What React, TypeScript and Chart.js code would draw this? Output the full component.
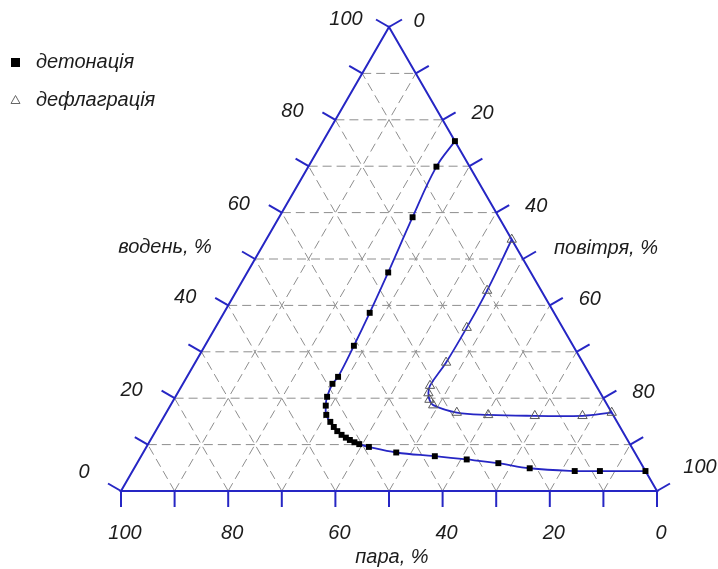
import { useEffect, useRef } from 'react';
import { Chart, registerables } from 'chart.js';

Chart.register(...registerables);

// ternary axes: водень (hydrogen), повітря (air), пара (steam); values in %
const tickValues = [0, 10, 20, 30, 40, 50, 60, 70, 80, 90, 100];
const gridValues = [10, 20, 30, 40, 50, 60, 70, 80, 90];
const labelValues = [0, 20, 40, 60, 80, 100];

const seriesNames = ['детонація', 'дефлаграція'];
const axisTitles = ['водень, %', 'повітря, %', 'пара, %'];

// detonation limit (hydrogen %, steam %), air = rest
const detonationHydrogen = [75.4, 69.9, 59.0, 47.1, 38.4, 31.3, 24.6, 23.1, 20.3, 18.4, 16.4, 14.9, 13.8, 12.9, 12.1, 11.5, 11.0, 10.5, 10.1, 9.5, 8.3, 7.5, 6.8, 6.0, 4.9, 4.3, 4.3, 4.3];
const detonationSteam = [0.0, 6.2, 16.1, 26.6, 34.4, 40.9, 47.2, 49.0, 51.4, 52.6, 53.5, 53.5, 53.4, 53.2, 52.8, 52.3, 51.8, 51.2, 50.5, 49.0, 44.5, 37.7, 32.1, 26.6, 21.3, 13.2, 8.5, 0.0];

// deflagration limit (hydrogen %, steam %)
const deflagrationHydrogen = [54.2, 43.2, 35.2, 27.7, 22.7, 21.1, 19.7, 18.5, 16.9, 16.4, 16.2, 16.2, 16.9];
const deflagrationSteam = [0.0, 10.1, 17.9, 25.5, 31.0, 32.1, 32.6, 32.5, 28.9, 23.3, 14.7, 5.8, 0.0];

const BLUE = '#2626c4';
const FONT = 'italic 20px "Liberation Sans", Arial, sans-serif';

const toXY = (h: number, s: number) => {
  const a = 100 - h - s;
  return { x: a + h / 2, y: h };
};

const ternaryPlugin = {
  id: 'ternary',
  beforeDatasetsDraw(chart: any) {
    const ctx = chart.ctx as CanvasRenderingContext2D;
    const xs = chart.scales.x;
    const ys = chart.scales.y;
    const P = (h: number, a: number) => [xs.getPixelForValue(a + h / 2), ys.getPixelForValue(h)];
    const line = (p: number[], q: number[]) => {
      ctx.beginPath();
      ctx.moveTo(p[0], p[1]);
      ctx.lineTo(q[0], q[1]);
      ctx.stroke();
    };
    ctx.save();
    // grid
    ctx.strokeStyle = '#8e8e8e';
    ctx.lineWidth = 1;
    ctx.setLineDash([9, 5]);
    gridValues.forEach((k) => {
      line(P(k, 0), P(k, 100 - k));
      line(P(0, k), P(100 - k, k));
      line(P(0, 100 - k), P(100 - k, 0));
    });
    ctx.setLineDash([]);
    // triangle
    ctx.strokeStyle = BLUE;
    ctx.lineWidth = 2;
    ctx.beginPath();
    const A = P(0, 0), B = P(0, 100), C = P(100, 0);
    ctx.moveTo(A[0], A[1]);
    ctx.lineTo(B[0], B[1]);
    ctx.lineTo(C[0], C[1]);
    ctx.closePath();
    ctx.stroke();
    // ticks
    const L = 15;
    const c30 = Math.cos(Math.PI / 6), s30 = 0.5;
    tickValues.forEach((k) => {
      const ph = P(k, 0);
      line(ph, [ph[0] - c30 * L, ph[1] - s30 * L]);
      const pa = P(100 - k, k);
      line(pa, [pa[0] + c30 * L, pa[1] - s30 * L]);
      const ps = P(0, 100 - k);
      line(ps, [ps[0], ps[1] + L + 1]);
    });
    ctx.restore();
  },
  afterDraw(chart: any) {
    const ctx = chart.ctx as CanvasRenderingContext2D;
    const xs = chart.scales.x;
    const ys = chart.scales.y;
    const P = (h: number, a: number) => [xs.getPixelForValue(a + h / 2), ys.getPixelForValue(h)];
    ctx.save();
    ctx.font = FONT;
    ctx.fillStyle = '#1c1c1c';
    ctx.textAlign = 'center';
    ctx.textBaseline = 'middle';
    labelValues.forEach((k) => {
      const ph = P(k, 0);
      const oh = k === 0 ? [-37, -19] : [-43, -8];
      ctx.fillText(String(k), ph[0] + oh[0], ph[1] + oh[1]);
      const pa = P(100 - k, k);
      const oa = k === 0 ? [30, -6] : k === 100 ? [43, -24] : [40, -6];
      ctx.fillText(String(k), pa[0] + oa[0], pa[1] + oa[1]);
      const ps = P(0, 100 - k);
      ctx.fillText(String(k), ps[0] + 4, ps[1] + 42);
    });
    ctx.fillText(axisTitles[0], 165, 247);
    ctx.fillText(axisTitles[1], 606, 248);
    ctx.fillText(axisTitles[2], 392, 557);
    // legend
    ctx.textAlign = 'left';
    ctx.fillText(seriesNames[0], 36, 62);
    ctx.fillText(seriesNames[1], 36, 100);
    ctx.fillStyle = '#000';
    ctx.fillRect(11, 58, 9, 9);
    ctx.strokeStyle = '#666';
    ctx.lineWidth = 1;
    ctx.beginPath();
    ctx.moveTo(15.5, 95.5);
    ctx.lineTo(20, 103.5);
    ctx.lineTo(11, 103.5);
    ctx.closePath();
    ctx.stroke();
    ctx.restore();
  },
};

export default function App() {
  const ref = useRef<HTMLCanvasElement | null>(null);
  useEffect(() => {
    if (!ref.current) return;
    const chart = new Chart(ref.current, {
      type: 'scatter',
      data: {
        datasets: [
          {
            label: seriesNames[0],
            data: detonationHydrogen.map((h, i) => toXY(h, detonationSteam[i])),
            showLine: true,
            tension: 0.4,
            borderColor: BLUE,
            borderWidth: 1.8,
            pointStyle: 'rect',
            pointRadius: 4.2,
            pointBackgroundColor: '#000',
            pointBorderColor: '#000',
            pointBorderWidth: 0,
            clip: false,
          } as any,
          {
            label: seriesNames[1],
            data: deflagrationHydrogen.map((h, i) => toXY(h, deflagrationSteam[i])),
            showLine: true,
            tension: 0.4,
            borderColor: BLUE,
            borderWidth: 1.8,
            pointStyle: 'triangle',
            pointRadius: 5.4,
            pointBackgroundColor: 'rgba(0,0,0,0)',
            pointBorderColor: '#5a5a5a',
            pointBorderWidth: 1,
            clip: false,
          } as any,
        ],
      },
      options: {
        animation: false,
        responsive: false,
        layout: { autoPadding: false, padding: { left: 121, right: 61, top: 27, bottom: 78 } },
        scales: {
          x: { type: 'linear', min: 0, max: 100, display: false },
          y: { type: 'linear', min: 0, max: 100, display: false },
        },
        plugins: { legend: { display: false }, tooltip: { enabled: false } },
      } as any,
      plugins: [ternaryPlugin],
    });
    return () => chart.destroy();
  }, []);
  return (
    <div style={{ position: 'fixed', left: 0, top: 0, width: 718, height: 569, background: '#fff' }}>
      <canvas ref={ref} width={718} height={569} style={{ width: 718, height: 569 }} />
    </div>
  );
}
